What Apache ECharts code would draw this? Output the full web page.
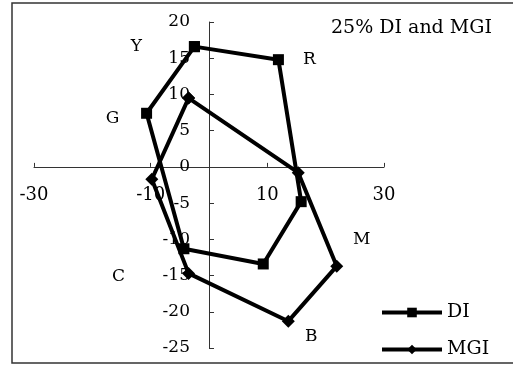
<!DOCTYPE html>
<html>
<head>
<meta charset="utf-8">
<script src="https://cdn.jsdelivr.net/npm/echarts@6/dist/echarts.min.js"></script>
<style>html,body{margin:0;padding:0;background:#fff}#c{width:513px;height:367px}</style>
</head>
<body>
<div id="c"></div>
<script>
// categories (colour names) in polygon order
var categories = ['Y', 'R', 'M', 'B', 'C', 'G'];
// DI values
var diX = [-2.5, 11.9, 15.8, 9.3, -4.3, -10.7];
var diY = [16.6, 14.8, -4.8, -13.4, -11.3, 7.4];
// MGI values
var mgiX = [-3.5, 15.3, 21.9, 13.6, -3.5, -9.8];
var mgiY = [9.5, -0.8, -13.7, -21.3, -14.7, -1.7];
// tick labels
var xTicks = [-30, -10, 10, 30];
var yTicks = [-25, -20, -15, -10, -5, 0, 5, 10, 15, 20];

// which series carries each category label, and label offsets (style)
var labelOn = ['DI', 'DI', 'MGI', 'MGI', 'MGI', 'DI'];
var labelOffset = [[-58, 0], [31, 0], [25, -27], [23, 15], [-70, 3], [-34, 5]];

var FONT = 'DejaVu Serif';
var GRID = { left: 34, right: 129, top: 22, bottom: 19 };
var W = 513, H = 367;

function buildData(xs, ys, name) {
  var d = [];
  for (var i = 0; i < xs.length; i++) {
    var item = { value: [xs[i], ys[i]] };
    if (labelOn[i] === name) {
      item.label = {
        show: true,
        formatter: categories[i],
        position: 'inside',
        offset: labelOffset[i],
        fontFamily: FONT,
        fontSize: 17,
        color: '#000'
      };
    }
    d.push(item);
  }
  d.push({ value: [xs[0], ys[0]] }); // close polygon
  return d;
}

var xMin = -30, xMax = 30, yMin = -25, yMax = 20;
var gw = W - GRID.left - GRID.right, gh = H - GRID.top - GRID.bottom;
// shift axes so they cross at zero (offset computed via the axis scale)
var yAxisOffset = -gw * (0 - xMin) / (xMax - xMin);
var xAxisOffset = -gh * (0 - yMin) / (yMax - yMin);

var legendCommon = {
  orient: 'vertical', left: 380, padding: 0,
  itemWidth: 60, itemHeight: 12,
  lineStyle: { width: 4, color: '#000' },
  textStyle: { fontFamily: FONT, fontSize: 19, color: '#000' }
};

var chart = echarts.init(document.getElementById('c'), null, { renderer: 'canvas' });
chart.setOption({
  animation: false,
  backgroundColor: '#fff',
  title: {
    text: '25% DI and MGI',
    left: 331, top: 19, padding: 0,
    textStyle: { fontFamily: FONT, fontSize: 19, fontWeight: 'normal', color: '#000' }
  },
  graphic: [{
    type: 'rect',
    shape: { x: 12, y: 3, width: 510, height: 360 },
    style: { fill: 'none', stroke: '#333', lineWidth: 1.5 },
    z: -1
  }],
  legend: [
    Object.assign({}, legendCommon, { top: 303, data: ['DI'] }),
    Object.assign({}, legendCommon, { top: 340, data: ['MGI'] })
  ],
  grid: {
    left: GRID.left, right: GRID.right, top: GRID.top, bottom: GRID.bottom,
    containLabel: false, outerBoundsMode: 'none'
  },
  xAxis: {
    type: 'value', min: xMin, max: xMax, interval: 10,
    position: 'bottom', offset: xAxisOffset,
    axisLine: { onZero: false, lineStyle: { color: '#333', width: 1 } },
    axisTick: { show: true, inside: true, length: 4, customValues: xTicks, lineStyle: { color: '#333' } },
    axisLabel: { customValues: xTicks, margin: 19, fontFamily: FONT, fontSize: 18, color: '#000' },
    splitLine: { show: false }
  },
  yAxis: {
    type: 'value', min: yMin, max: yMax, interval: 5,
    position: 'left', offset: yAxisOffset,
    axisLine: { show: true, onZero: false, lineStyle: { color: '#333', width: 1 } },
    axisTick: { show: true, inside: true, length: 5, customValues: yTicks, lineStyle: { color: '#333' } },
    axisLabel: { customValues: yTicks, margin: 19, fontFamily: FONT, fontSize: 17, color: '#000' },
    splitLine: { show: false }
  },
  series: [{
    name: 'DI', type: 'line',
    symbol: 'rect', symbolSize: 11,
    lineStyle: { color: '#000', width: 4 },
    itemStyle: { color: '#000' },
    data: buildData(diX, diY, 'DI'),
    z: 3
  }, {
    name: 'MGI', type: 'line',
    symbol: 'diamond', symbolSize: 13,
    lineStyle: { color: '#000', width: 4 },
    itemStyle: { color: '#000' },
    data: buildData(mgiX, mgiY, 'MGI'),
    z: 3
  }]
});
</script>
</body>
</html>
